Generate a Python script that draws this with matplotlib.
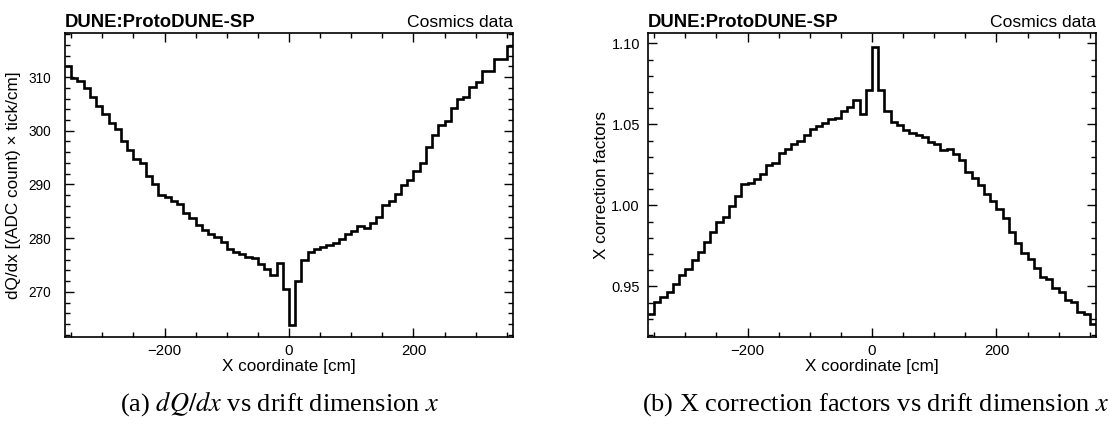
import numpy as np
import matplotlib
matplotlib.use("Agg")
import matplotlib.pyplot as plt
from matplotlib.ticker import MultipleLocator, FormatStrFormatter

plt.rcParams['font.family'] = ['Liberation Sans', 'DejaVu Sans']
plt.rcParams['mathtext.fontset'] = 'stix'

# ---- data: 72 bins of 10 cm from -360 to 360 cm ----
x_edges = np.arange(-360, 361, 10)

dqdx = [312.0, 309.9, 309.3, 307.9, 306.3, 304.6, 303.1, 301.4, 300.3, 298.1,
        296.5, 294.7, 294.0, 291.6, 290.0, 288.1, 287.6, 286.9, 286.4, 284.6,
        283.8, 282.5, 281.5, 280.7, 280.2, 279.2, 277.9, 277.4, 277.0, 276.5,
        276.3, 275.2, 274.3, 273.1, 275.4, 270.6, 263.9, 272.1, 275.9, 277.4,
        277.9, 278.3, 278.8, 279.1, 279.9, 280.8, 281.3, 282.2, 281.9, 282.8,
        284.0, 286.1, 286.9, 288.3, 289.9, 290.8, 292.5, 294.0, 296.9, 299.3,
        301.1, 301.9, 304.2, 305.9, 306.3, 308.1, 309.1, 311.2, 311.2, 313.4,
        313.4, 315.7]

xcorr = [0.9328, 0.9401, 0.9432, 0.9467, 0.9514, 0.9570, 0.9607, 0.9663, 0.9711, 0.9777,
         0.9835, 0.9897, 0.9928, 0.9996, 1.0058, 1.0130, 1.0140, 1.0161, 1.0192, 1.0248,
         1.0264, 1.0324, 1.0349, 1.0378, 1.0399, 1.0434, 1.0469, 1.0492, 1.0510, 1.0531,
         1.0537, 1.0585, 1.0610, 1.0651, 1.0562, 1.0713, 1.0977, 1.0713, 1.0583, 1.0517,
         1.0496, 1.0465, 1.0444, 1.0434, 1.0424, 1.0393, 1.0378, 1.0341, 1.0351, 1.0320,
         1.0279, 1.0207, 1.0171, 1.0124, 1.0068, 1.0027, 0.9979, 0.9924, 0.9839, 0.9767,
         0.9705, 0.9669, 0.9612, 0.9556, 0.9545, 0.9490, 0.9463, 0.9415, 0.9407, 0.9345,
         0.9333, 0.9267]

xlabel = "X coordinate [cm]"
ylabels = ["dQ/dx [(ADC count) \u00d7 tick/cm]", "X correction factors"]
captions = ["(a) $dQ/dx$ vs drift dimension $x$",
            "(b) X correction factors vs drift dimension $x$"]

# ---- figure ----
W, H = 1110, 432
fig = plt.figure(figsize=(W / 100, H / 100), dpi=100)

def px_axes(left, right, top, bottom):
    return fig.add_axes([left / W, 1 - bottom / H, (right - left) / W, (bottom - top) / H])

ax1 = px_axes(65, 513, 33, 337)
ax2 = px_axes(648, 1096, 33, 337)

# axes, values, ylim, major, minor, format, tick size, tick pad, ylabel x, caption centre (px)
panels = [
    (ax1, dqdx, (261.6, 318.2), 10, 2, "%d", 9.8, 10.2, -0.114, 280),
    (ax2, xcorr, (0.9188, 1.1064), 0.05, 0.01, "%.2f", 10.5, 5.8, -0.103, 876),
]

for i, (ax, vals, ylim, ymaj, ymin, yfmt, ytick_fs, ypad, ylab_x, cap_x) in enumerate(panels):
    ax.stairs(vals, x_edges, color='black', lw=1.9, baseline=None)
    ax.set_xlim(-360, 360)
    ax.set_ylim(*ylim)

    ax.xaxis.set_major_locator(MultipleLocator(200))
    ax.xaxis.set_minor_locator(MultipleLocator(50))
    ax.yaxis.set_major_locator(MultipleLocator(ymaj))
    ax.yaxis.set_minor_locator(MultipleLocator(ymin))
    ax.yaxis.set_major_formatter(FormatStrFormatter(yfmt))

    ax.tick_params(which='both', direction='in', top=True, right=True, width=1.0)
    ax.tick_params(which='major', length=6.5)
    ax.tick_params(which='minor', length=3.6)
    ax.tick_params(axis='x', labelsize=10.8, pad=5)
    ax.tick_params(axis='y', labelsize=ytick_fs, pad=ypad)
    for sp in ax.spines.values():
        sp.set_linewidth(1.2)

    ax.set_xlabel(xlabel, fontsize=12.3)
    ax.xaxis.set_label_coords(0.5, -0.072)
    ax.set_ylabel(ylabels[i], fontsize=12.3)
    ax.yaxis.set_label_coords(ylab_x, 0.5)
    ax.yaxis.label.set_verticalalignment('center')

    ax.text(0.0, 1.02, "DUNE:ProtoDUNE-SP", transform=ax.transAxes,
            fontsize=13.3, fontweight='bold', ha='left', va='baseline')
    ax.text(1.0, 1.02, "Cosmics data", transform=ax.transAxes,
            fontsize=12.6, ha='right', va='baseline')

    fig.text(cap_x / W, 1 - 411 / H, captions[i],
             fontsize=19, family=['Liberation Serif', 'DejaVu Serif'],
             ha='center', va='baseline')

fig.savefig("out.png", dpi=100)
